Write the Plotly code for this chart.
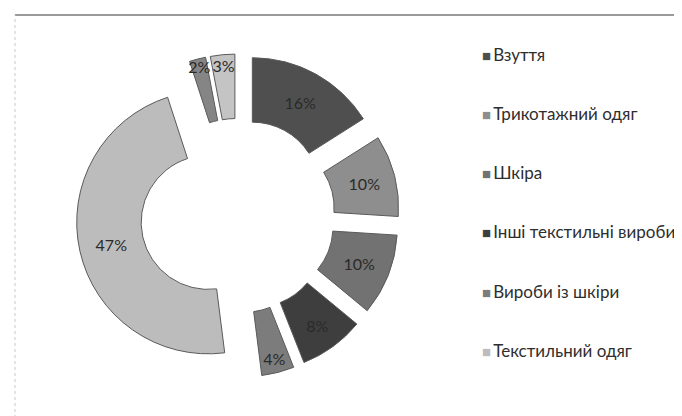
import plotly.graph_objects as go

labels = ["Взуття", "Трикотажний одяг", "Шкіра", "Інші текстильні вироби",
          "Вироби із шкіри", "Текстильний одяг", "Хутро", "Інші вироби"]
values = [16, 10, 10, 8, 4, 47, 2, 3]
colors = ["#4f4f4f", "#8e8e8e", "#727272", "#3e3e3e", "#7c7c7c", "#bcbcbc", "#858585", "#c4c4c4"]
legend_labels = labels[:6]
legend_colors = colors[:6]

W, H = 682, 416
fig = go.Figure()
fig.add_trace(go.Pie(
    labels=labels, values=values, sort=False, direction="clockwise", rotation=0,
    hole=0.51, pull=[0.23] * len(values),
    marker=dict(colors=colors, line=dict(color="#5a5a5a", width=1)),
    textinfo="percent", textposition="inside", insidetextorientation="horizontal",
    textfont=dict(family="Lato, sans-serif", size=16, color="#2a2a2a"),
    domain=dict(x=[68 / W, 391.5 / W], y=[1 - 369.5 / H, 1 - 46 / H]),
    showlegend=False,
))
for i, (lab, col) in enumerate(zip(legend_labels, legend_colors)):
    fig.add_trace(go.Scatter(
        x=[None], y=[None], mode="markers", legendgroup=f"g{i}",
        name=f"<span style='font-size:15px;color:{col}'>■</span>\u2009{lab}",
        marker=dict(symbol="square", size=1, color="rgba(0,0,0,0)"),
    ))

fig.update_layout(
    width=W, height=H, margin=dict(l=0, r=0, t=0, b=0),
    paper_bgcolor="white", plot_bgcolor="white",
    xaxis=dict(visible=False), yaxis=dict(visible=False),
    uniformtext=dict(minsize=16, mode="show"),
    legend=dict(x=434 / W, y=1 - 29 / H, xanchor="left", yanchor="top",
                font=dict(family="Lato, sans-serif", size=17, color="#2e2e2e"),
                tracegroupgap=34, itemclick=False, itemdoubleclick=False),
    shapes=[
        dict(type="line", xref="paper", yref="paper", x0=7 / W, x1=1, y0=1 - 7 / H, y1=1 - 7 / H,
             line=dict(color="#9a9a9a", width=2)),
        dict(type="line", xref="paper", yref="paper", x0=7 / W, x1=7 / W, y0=0, y1=1 - 7 / H,
             line=dict(color="#c8c8c8", width=1, dash="dot")),
    ],
)
fig.write_html("out.html")
